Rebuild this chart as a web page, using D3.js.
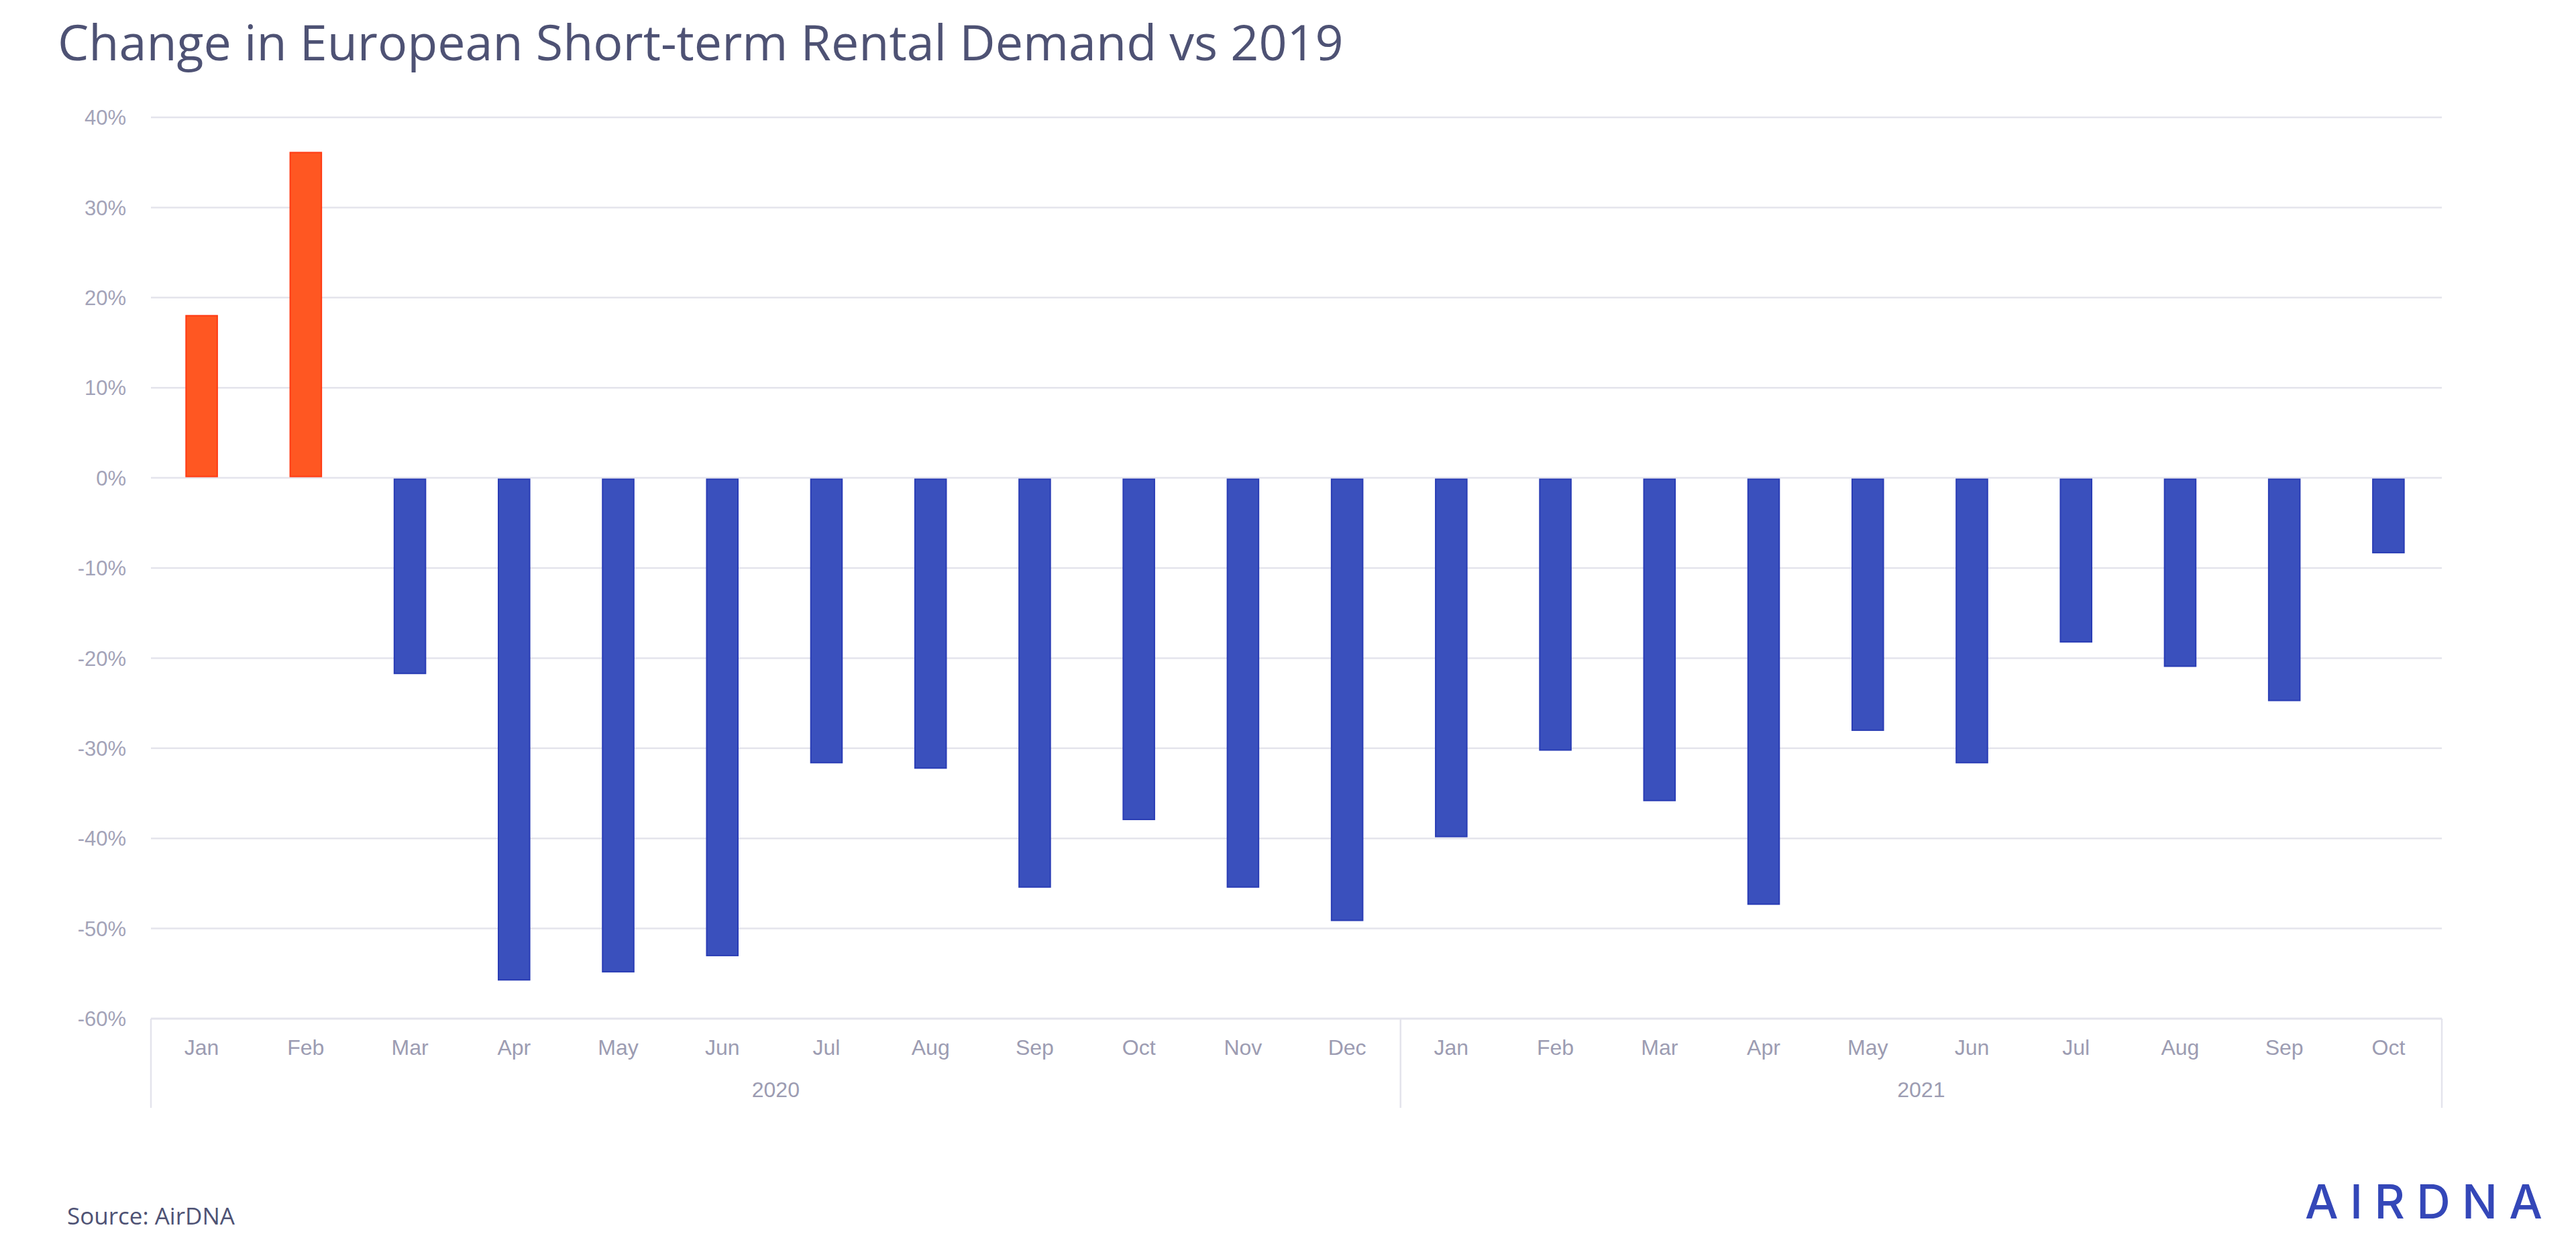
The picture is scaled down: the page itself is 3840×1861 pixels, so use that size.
<!DOCTYPE html>
<html>
<head>
<meta charset="utf-8">
<script src="https://cdn.jsdelivr.net/npm/d3@7"></script>
<style>
  html, body { margin: 0; padding: 0; background: #ffffff; }
  svg { display: block; }
</style>
</head>
<body>
<svg id="chart" width="3840" height="1861"></svg>
<script>
// ---- Data ----
const months = ["Jan","Feb","Mar","Apr","May","Jun","Jul","Aug","Sep","Oct","Nov","Dec",
                "Jan","Feb","Mar","Apr","May","Jun","Jul","Aug","Sep","Oct"];
const years = ["2020","2021"];
const yearSpans = [12, 10];
const values = [18.0, 36.1, -21.7, -55.7, -54.8, -53.0, -31.6, -32.2, -45.4, -37.9, -45.4, -49.1,
                -39.8, -30.2, -35.8, -47.3, -28.0, -31.6, -18.2, -20.9, -24.7, -8.3];
const yTicks = [40, 30, 20, 10, 0, -10, -20, -30, -40, -50, -60];

const title = "Change in European Short-term Rental Demand vs 2019";
const source = "Source: AirDNA";

// ---- Layout ----
const plotL = 225, plotR = 3640, plotT = 175, plotB = 1519;
const axisBottom = 1652;

const svg = d3.select("#chart");

const x = d3.scaleBand().domain(d3.range(months.length)).range([plotL, plotR]).padding(0);
const y = d3.scaleLinear().domain([-60, 40]).range([plotB, plotT]);

const gridColor = "#e4e4ec";
const labelColor = "#a3a3b8";

// Gridlines
svg.append("g").selectAll("line").data(yTicks).join("line")
  .attr("x1", plotL).attr("x2", plotR)
  .attr("y1", d => y(d)).attr("y2", d => y(d))
  .attr("stroke", gridColor).attr("stroke-width", d => d === -60 ? 3 : 2.5);

// Y tick labels
svg.append("g").selectAll("text").data(yTicks).join("text")
  .attr("x", 188).attr("y", d => y(d))
  .attr("dy", "0.36em")
  .attr("text-anchor", "end")
  .attr("font-family", "'Liberation Sans', Arial, sans-serif")
  .attr("font-size", 31)
  .attr("fill", labelColor)
  .text(d => d + "%");

// Bars
const bw = x.bandwidth() * 0.3;
svg.append("g").selectAll("rect").data(values).join("rect")
  .attr("x", (d, i) => x(i) + (x.bandwidth() - bw) / 2 - 2)
  .attr("width", bw)
  .attr("y", d => d >= 0 ? y(d) : y(0) + 2)
  .attr("height", d => Math.abs(y(d) - y(0)) - 2)
  .attr("fill", d => d >= 0 ? "#ff5722" : "#3a50bd")
  .attr("stroke", d => d >= 0 ? "#ff3b14" : "#2a3db5")
  .attr("stroke-width", 2);

// Category axis frame
const bounds = [0];
yearSpans.reduce((acc, s) => { bounds.push(acc + s); return acc + s; }, 0);
svg.append("g").selectAll("line").data(bounds).join("line")
  .attr("x1", d => d < months.length ? x(d) : plotR)
  .attr("x2", d => d < months.length ? x(d) : plotR)
  .attr("y1", plotB).attr("y2", axisBottom)
  .attr("stroke", gridColor).attr("stroke-width", 2.5);

// Month labels
svg.append("g").selectAll("text").data(months).join("text")
  .attr("x", (d, i) => x(i) + x.bandwidth() / 2 - 2)
  .attr("y", 1573)
  .attr("text-anchor", "middle")
  .attr("font-family", "'Liberation Sans', Arial, sans-serif")
  .attr("font-size", 32)
  .attr("fill", "#9c9cb2")
  .text(d => d);

// Year labels
svg.append("g").selectAll("text").data(years).join("text")
  .attr("x", (d, i) => {
    const a = bounds[i], b = bounds[i + 1];
    const xa = x(a), xb = b < months.length ? x(b) : plotR;
    return (xa + xb) / 2;
  })
  .attr("y", 1636)
  .attr("text-anchor", "middle")
  .attr("font-family", "'Liberation Sans', Arial, sans-serif")
  .attr("font-size", 32)
  .attr("fill", "#9c9cb2")
  .text(d => d);

// Title
const t = svg.append("text")
  .attr("x", 86).attr("y", 90)
  .attr("font-family", "'Open Sans', 'Noto Sans', sans-serif")
  .attr("font-size", 100)
  .attr("fill", "#4e5274")
  .text(title);
const tw = t.node().getComputedTextLength();
t.attr("font-size", 100 * 1917 / tw);

// Source
svg.append("text")
  .attr("x", 100).attr("y", 1826)
  .attr("font-family", "'Open Sans', 'Noto Sans', sans-serif")
  .attr("font-size", 35)
  .attr("fill", "#4e5274")
  .text(source);

// Logo
svg.append("text")
  .attr("x", 3436).attr("y", 1817)
  .attr("font-family", "Inter, 'DejaVu Sans', sans-serif")
  .attr("font-weight", 500)
  .attr("font-size", 70)
  .attr("textLength", 354)
  .attr("lengthAdjust", "spacing")
  .attr("fill", "#3447b8")
  .text("AIRDNA");
</script>
</body>
</html>
